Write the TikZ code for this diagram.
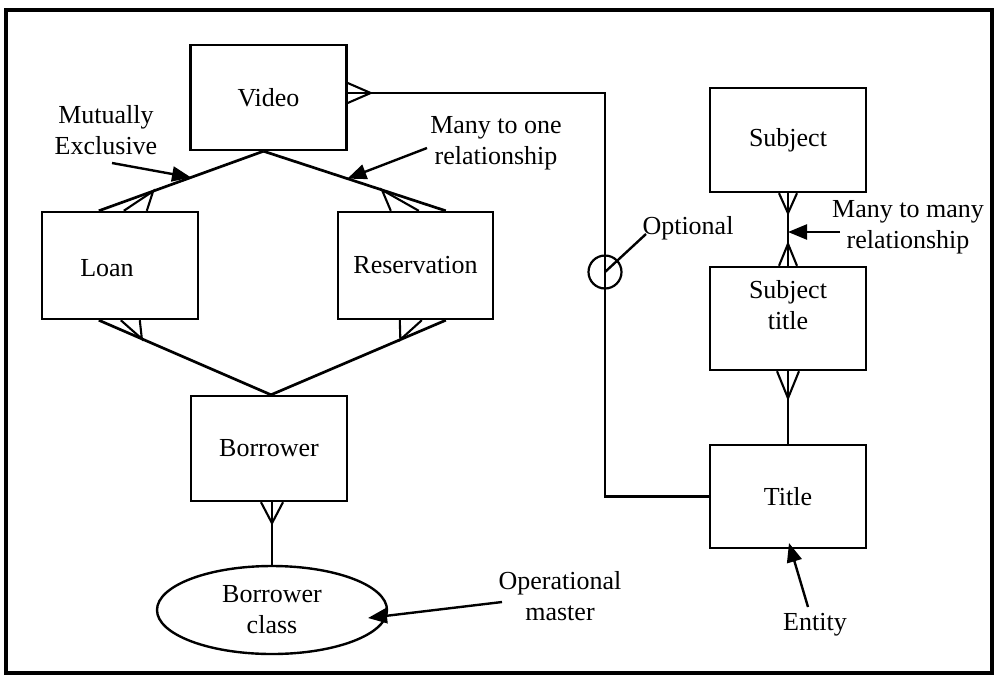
\documentclass[tikz,border=0pt]{standalone}
\usepackage{fontspec}
\setmainfont{Liberation Serif}
\usetikzlibrary{calc,arrows.meta,shapes.geometric}
\begin{document}
\begin{tikzpicture}[x=1pt,y=-1pt,
  every node/.style={font=\fontsize{26}{31}\selectfont},
  entity/.style={draw,line width=2.4pt,minimum width=156pt,minimum height=105pt,inner sep=0pt,align=center},
  link/.style={line width=2.7pt},
  foot/.style={line width=2.1pt,line join=miter},
  note/.style={align=center,inner sep=0pt},
  pointer/.style={line width=2.4pt,-{Triangle[length=19pt,width=15pt]}},
]
\useasboundingbox (0,0) rectangle (996,678);
\fill[white] (0,0) rectangle (996,678);
% outer frame
\draw[line width=3.5pt] (6,10) rectangle (992,673);

% entities
\node[entity] (video) at (268.5,97.5) {Video};
\node[entity,minimum height=107pt] (loan) at (120,265.5) {};
\node[note] (loantext) at (107,268) {Loan};
\node[entity,minimum width=155pt,minimum height=107pt] (res) at (415.5,265.5) {Reservation};
\node[entity] (borrower) at (269,448.5) {Borrower};
\node[draw,ellipse,line width=2.4pt,minimum width=230pt,minimum height=88pt,inner sep=0pt,align=center] (bclass) at (272,610) {Borrower\\class};
\node[entity,minimum height=104pt] (subject) at (788,140) {Subject};
\node[entity,minimum height=103pt] (subjtitle) at (788,318.5) {};
\node[note] (subjtitletext) at (788,305) {Subject\\title};
\node[entity,minimum height=103pt] (title) at (788,496.5) {Title};

% Video -- Loan / Reservation
\coordinate (vb) at ($(video.south)+(-5,0)$);
\coordinate (lt) at ($(loan.north west)+(58,0)$);
\coordinate (rt) at ($(res.north west)+(109,0)$);
\draw[link] (vb) -- (lt);
\draw[link] (vb) -- (rt);
\coordinate (lta) at ($(lt)!0.33!(vb)$);
\draw[foot] ($(lt)+(25,0)$) -- (lta) -- ($(lt)+(48,0)$);
\coordinate (rta) at ($(rt)!0.35!(vb)$);
\draw[foot] ($(rt)+(-27,0)$) -- (rta) -- ($(rt)+(-55,0)$);

% Loan / Reservation -- Borrower
\coordinate (bt) at ($(borrower.north)+(2,0)$);
\coordinate (lb) at ($(loan.south west)+(58,0)$);
\coordinate (rb) at ($(res.south west)+(109,0)$);
\draw[link] (lb) -- (bt);
\draw[link] (rb) -- (bt);
\coordinate (lba) at ($(lb)!0.25!(bt)$);
\draw[foot] ($(lb)+(22,0)$) -- (lba) -- ($(lb)+(41,0)$);
\coordinate (rba) at ($(rb)!0.26!(bt)$);
\draw[foot] ($(rb)+(-24,0)$) -- (rba) -- ($(rb)+(-46,0)$);

% Borrower -- Borrower class
\coordinate (bb) at (borrower.south -| bclass.north);
\draw[link] (bb) -- (bclass.north);
\draw[foot] ($(bb)+(-11,0)$) -- ($(bb)+(0,21)$) -- ($(bb)+(11,0)$);

% Video -- Title (optional)
\node[draw,circle,line width=2.2pt,minimum size=33pt,inner sep=0pt] (opt) at (605,272) {};
\coordinate (vr) at ($(video.east)+(0,-4.5)$);
\draw[link] (vr) -| (opt.center) |- (title.west);
\draw[foot] ($(vr)+(0,-10)$) -- ($(vr)+(23,0)$) -- ($(vr)+(0,10)$);

% Subject -- Subject title -- Title
\draw[link] (subject.south) -- (subjtitle.north);
\draw[foot] ($(subject.south)+(-9,0)$) -- ($(subject.south)+(0,20)$) -- ($(subject.south)+(9,0)$);
\draw[foot] ($(subjtitle.north)+(-9,0)$) -- ($(subjtitle.north)+(0,-22)$) -- ($(subjtitle.north)+(9,0)$);
\draw[link] (subjtitle.south) -- (title.north);
\draw[foot] ($(subjtitle.south)+(-11,0)$) -- ($(subjtitle.south)+(0,27)$) -- ($(subjtitle.south)+(11,0)$);

% annotations
\node[note] (mutex) at (106,130) {Mutually\\Exclusive};
\coordinate (mutextail) at (112,163);
\draw[pointer] (mutextail) -- ($(lt)!0.56!(vb)$);

\node[note] (manyone) at (496,143) {Many to one\\relationship};
\coordinate (manyonetail) at (427,148);
\draw[pointer] (manyonetail) -- ($(rt)!0.54!(vb)$);

\node[note] (manymany) at (908,227) {Many to many\\relationship};
\coordinate (manymanytail) at (840,232);
\draw[pointer] (manymanytail) -- (manymanytail -| subject.south);

\node[note] (optlabel) at (688,228) {Optional};
\coordinate (optend) at (646,234);
\draw[line width=2.4pt] (opt.center) -- (optend);

\node[note] (opmaster) at (560,596) {Operational\\master};
\coordinate (opmastertail) at (502,602);
\draw[pointer] (opmastertail) -- (368,618);

\node[note] (entitylabel) at (815,625) {Entity};
\coordinate (entitytail) at (808,607);
\draw[pointer] (entitytail) -- (789,543);
\end{tikzpicture}
\end{document}
